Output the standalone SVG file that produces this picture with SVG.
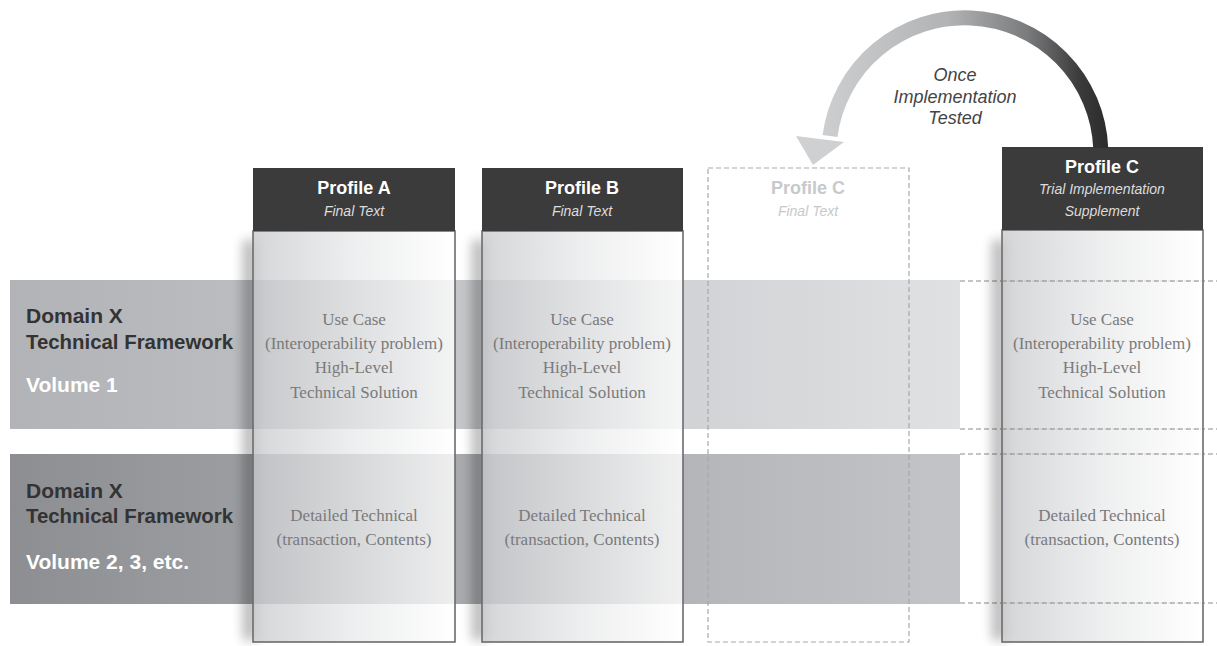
<svg xmlns="http://www.w3.org/2000/svg" width="1217" height="646" viewBox="0 0 1217 646">
<defs>
<linearGradient id="band1" x1="0" y1="0" x2="1" y2="0">
<stop offset="0" stop-color="#b1b3b6"/>
<stop offset="0.3" stop-color="#bcbec1"/>
<stop offset="1" stop-color="#e0e1e3"/>
</linearGradient>
<linearGradient id="band2" x1="0" y1="0" x2="1" y2="0">
<stop offset="0" stop-color="#8c8e91"/>
<stop offset="0.3" stop-color="#9fa1a4"/>
<stop offset="1" stop-color="#c3c4c7"/>
</linearGradient>
<linearGradient id="col" x1="0" y1="0" x2="1" y2="0">
<stop offset="0" stop-color="#cacbce" stop-opacity="0.8"/>
<stop offset="0.5" stop-color="#e8e9ea" stop-opacity="0.75"/>
<stop offset="1" stop-color="#ffffff" stop-opacity="0.8"/>
</linearGradient>
<linearGradient id="arc" gradientUnits="userSpaceOnUse" x1="815" y1="0" x2="1110" y2="0">
<stop offset="0" stop-color="#cfd0d2"/>
<stop offset="0.45" stop-color="#b2b3b5"/>
<stop offset="0.72" stop-color="#7a7b7d"/>
<stop offset="0.9" stop-color="#3a3a3a"/>
<stop offset="1" stop-color="#2a2a2a"/>
</linearGradient>
<filter id="blur" x="-1" y="-0.1" width="3" height="1.2">
<feGaussianBlur stdDeviation="6"/>
</filter>
</defs>
<style>
.hdr{fill:#3b3b3b}
.body{fill:url(#col);stroke:#6b6b6d;stroke-width:1.6}
.shadow{fill:#000;opacity:0.28;filter:url(#blur)}
.ttl{font-family:"Liberation Sans Narrow","Liberation Sans",sans-serif;font-weight:bold;font-size:18px;fill:#ffffff;text-anchor:middle}
.sub{font-family:"Liberation Sans",sans-serif;font-style:italic;font-size:14px;fill:#dddddd;text-anchor:middle}
.ser{font-family:"Liberation Serif",serif;font-size:17px;fill:#7a7a7c;text-anchor:middle}
.lbl{font-family:"Liberation Sans Narrow","Liberation Sans",sans-serif;font-weight:bold;font-size:21px;fill:#333333}
.vol{font-family:"Liberation Sans Narrow","Liberation Sans",sans-serif;font-weight:bold;font-size:21px;fill:#ffffff}
.dash{stroke:#8a8a8c;stroke-width:1;stroke-dasharray:5 3;fill:none}
.note{font-family:"Liberation Sans",sans-serif;font-style:italic;font-size:18px;fill:#444444;text-anchor:middle}
</style>
<rect width="1217" height="646" fill="#ffffff"/>

<g id="bands">
<rect x="10" y="280" width="950" height="149" fill="url(#band1)"/>
<rect x="10" y="454" width="950" height="150" fill="url(#band2)"/>
<line class="dash" x1="960" y1="281" x2="1217" y2="281"/>
<line class="dash" x1="960" y1="429" x2="1217" y2="429"/>
<line class="dash" x1="960" y1="454" x2="1217" y2="454"/>
<line class="dash" x1="960" y1="603" x2="1217" y2="603"/>
</g>

<g id="volume1-label">
<text class="lbl" x="26" y="323">Domain X</text>
<text class="lbl" x="26" y="349" textLength="207" lengthAdjust="spacingAndGlyphs">Technical Framework</text>
<text class="vol" x="26" y="392">Volume 1</text>
</g>
<g id="volume2-label">
<text class="lbl" x="26" y="498">Domain X</text>
<text class="lbl" x="26" y="523" textLength="207" lengthAdjust="spacingAndGlyphs">Technical Framework</text>
<text class="vol" x="26" y="569">Volume 2, 3, etc.</text>
</g>

<g id="profileA">
<rect class="shadow" x="243" y="240" width="14" height="400"/>
<rect class="body" x="253" y="231" width="202" height="411"/>
<rect class="hdr" x="253" y="168" width="202" height="63"/>
<text class="ttl" x="354" y="194">Profile A</text>
<text class="sub" x="354" y="216">Final Text</text>
<text class="ser" x="354" y="325">Use Case</text>
<text class="ser" x="354" y="349">(Interoperability problem)</text>
<text class="ser" x="354" y="373">High-Level</text>
<text class="ser" x="354" y="398">Technical Solution</text>
<text class="ser" x="354" y="521">Detailed Technical</text>
<text class="ser" x="354" y="545">(transaction, Contents)</text>
</g>

<g id="profileB">
<rect class="shadow" x="472" y="240" width="14" height="400"/>
<rect class="body" x="482" y="231" width="201" height="411"/>
<rect class="hdr" x="482" y="168" width="201" height="63"/>
<text class="ttl" x="582" y="194">Profile B</text>
<text class="sub" x="582" y="216">Final Text</text>
<text class="ser" x="582" y="325">Use Case</text>
<text class="ser" x="582" y="349">(Interoperability problem)</text>
<text class="ser" x="582" y="373">High-Level</text>
<text class="ser" x="582" y="398">Technical Solution</text>
<text class="ser" x="582" y="521">Detailed Technical</text>
<text class="ser" x="582" y="545">(transaction, Contents)</text>
</g>

<g id="profileC-final">
<rect x="708" y="168" width="201" height="474" fill="none" stroke="#a8a8aa" stroke-width="1.2" stroke-dasharray="5 3"/>
<text class="ttl" x="808" y="194" style="fill:#c8c9cb">Profile C</text>
<text class="sub" x="808" y="216" style="fill:#c8c9cb">Final Text</text>
</g>

<g id="profileC-trial">
<rect class="shadow" x="992" y="240" width="14" height="400"/>
<rect class="body" x="1002" y="230" width="201" height="412"/>
<line class="dash" x1="1002" y1="281" x2="1203" y2="281"/>
<line class="dash" x1="1002" y1="429" x2="1203" y2="429"/>
<line class="dash" x1="1002" y1="454" x2="1203" y2="454"/>
<line class="dash" x1="1002" y1="603" x2="1203" y2="603"/>
<rect class="hdr" x="1002" y="147" width="201" height="83"/>
<text class="ttl" x="1102" y="173">Profile C</text>
<text class="sub" x="1102" y="194">Trial Implementation</text>
<text class="sub" x="1102" y="216">Supplement</text>
<text class="ser" x="1102" y="325">Use Case</text>
<text class="ser" x="1102" y="349">(Interoperability problem)</text>
<text class="ser" x="1102" y="373">High-Level</text>
<text class="ser" x="1102" y="398">Technical Solution</text>
<text class="ser" x="1102" y="521">Detailed Technical</text>
<text class="ser" x="1102" y="545">(transaction, Contents)</text>
</g>

<g id="connectors">
<path d="M1100.7 148 A136 136 0 0 0 830 136" fill="none" stroke="url(#arc)" stroke-width="15"/>
<polygon points="796,136 844,142 813,165" fill="#cfd0d2"/>
<text class="note" x="955" y="81">Once</text>
<text class="note" x="955" y="103">Implementation</text>
<text class="note" x="955" y="124">Tested</text>
</g>
</svg>
